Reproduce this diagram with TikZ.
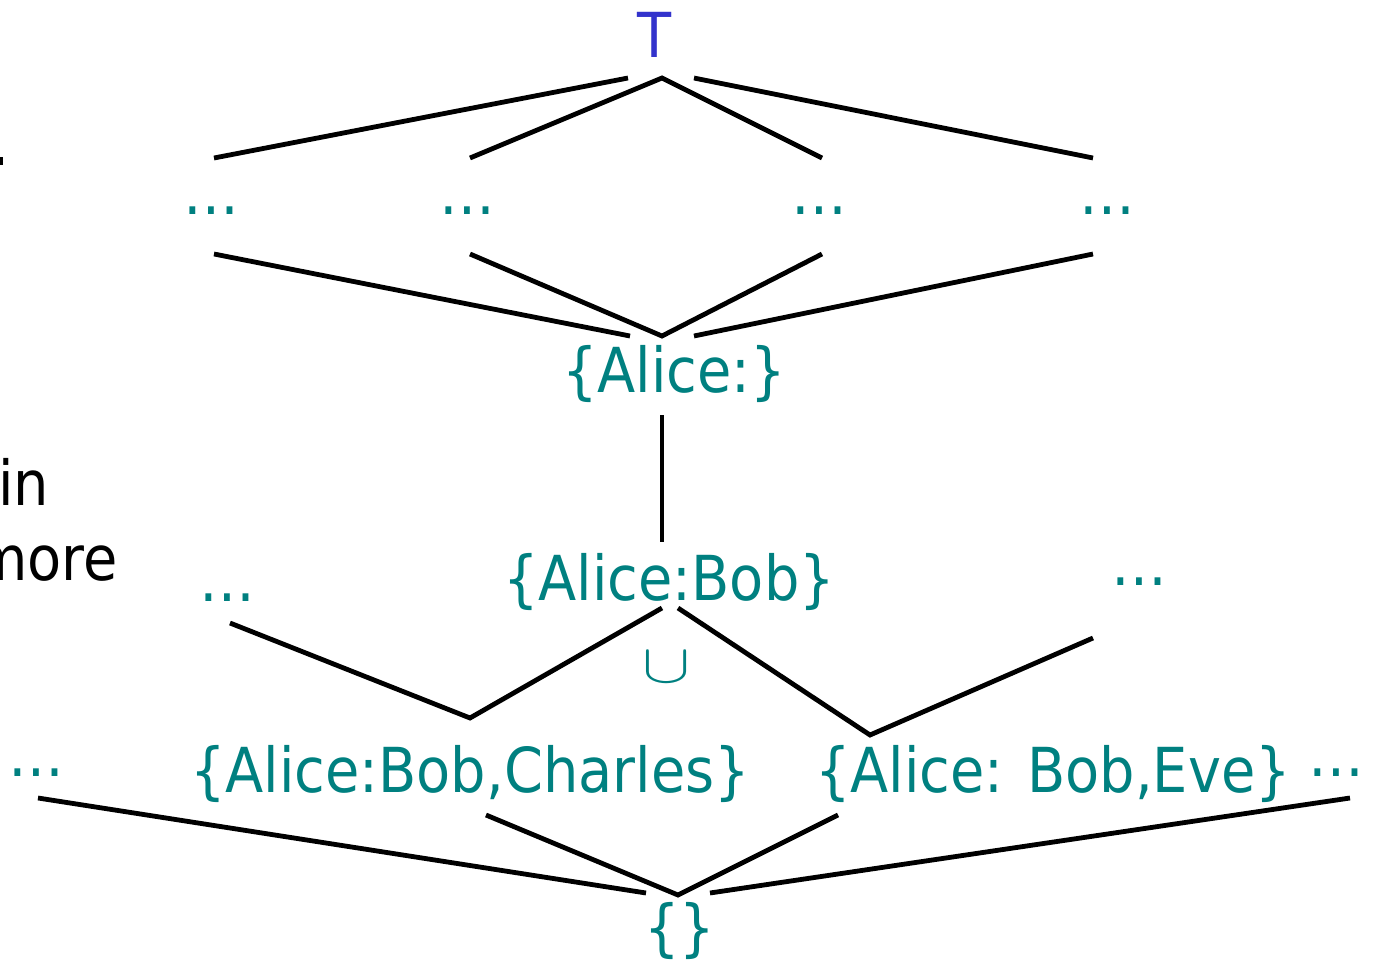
\documentclass[tikz,border=0pt]{standalone}
\usepackage{graphicx}
\usepackage{fontspec}
\setmainfont{DejaVu Sans}[FakeStretch=0.9]
\definecolor{tealtxt}{HTML}{008080}
\definecolor{topblue}{HTML}{3333CC}
\begin{document}
\begin{tikzpicture}[x=0.5pt,y=-0.5pt,
  lbl/.style={text=tealtxt, font=\fontsize{31pt}{37pt}\selectfont, inner sep=0pt, anchor=base},
  side/.style={text=black, font=\fontsize{31pt}{37pt}\selectfont, inner sep=0pt},
  edge/.style={line width=2.4pt, draw=black}]
\useasboundingbox (0,0) rectangle (1373,964);
% labels
\node[lbl, text=topblue] (top) at (655,57) {T};
\node[lbl] (d1) at (211,214) {…};
\node[lbl] (d2) at (467,214) {…};
\node[lbl] (d3) at (819,214) {…};
\node[lbl] (d4) at (1107,214) {…};
\node[lbl] (alice) at (674,392) {\{Alice:\}};
\node[lbl] (bob) at (669,600) {\{Alice:Bob\}};
\node[lbl] (dl) at (227,601) {…};
\node[lbl] (dr) at (1139,585) {…};
\node[lbl] (cup) at (667,682) {\scalebox{1.45}[1.1]{$\cup$}};
\node[lbl] (charles) at (470,792) {\{Alice:Bob,Charles\}};
\node[lbl] (eve) at (1053,792) {\{Alice: Bob,Eve\}};
\node[lbl] (el) at (36,776) {…};
\node[lbl] (er) at (1336,776) {…};
\node[lbl] (empty) at (680,949) {\{\}};
% partial side text
\node[side, anchor=base west] (sin) at (-2,505) {in};
\node[side, anchor=base east] (smore) at (118,580) {more};
\fill[black] (0,157) rectangle (2.5,165);
% connector end points
\coordinate (tA) at (628,78);
\coordinate (tB) at (662,78);
\coordinate (tC) at (694,78);
\coordinate (u1) at (214,158);
\coordinate (u2) at (470,158);
\coordinate (u3) at (822,158);
\coordinate (u4) at (1093,158);
\coordinate (l1) at (214,254);
\coordinate (l2) at (470,254);
\coordinate (l3) at (822,254);
\coordinate (l4) at (1093,254);
\coordinate (aA) at (630,336);
\coordinate (aB) at (662,336);
\coordinate (aC) at (694,336);
\coordinate (v1) at (662,415);
\coordinate (v2) at (662,542);
\coordinate (bL) at (662,608);
\coordinate (bR) at (678,608);
\coordinate (dlE) at (230,623);
\coordinate (drE) at (1093,638);
\coordinate (cJ) at (470,718);
\coordinate (eJ) at (870,735);
\coordinate (elE) at (38,798);
\coordinate (chE) at (486,815);
\coordinate (evE) at (838,815);
\coordinate (erE) at (1350,798);
\coordinate (zA) at (646,893);
\coordinate (zB) at (678,895);
\coordinate (zC) at (710,893);
% connectors
\draw[edge] (u1) -- (tA);
\draw[edge] (u2) -- (tB) -- (u3);
\draw[edge] (tC) -- (u4);
\draw[edge] (l1) -- (aA);
\draw[edge] (l2) -- (aB) -- (l3);
\draw[edge] (aC) -- (l4);
\draw[edge] (v1) -- (v2);
\draw[edge] (dlE) -- (cJ) -- (bL);
\draw[edge] (bR) -- (eJ) -- (drE);
\draw[edge] (elE) -- (zA);
\draw[edge] (chE) -- (zB) -- (evE);
\draw[edge] (zC) -- (erE);
\end{tikzpicture}
\end{document}
